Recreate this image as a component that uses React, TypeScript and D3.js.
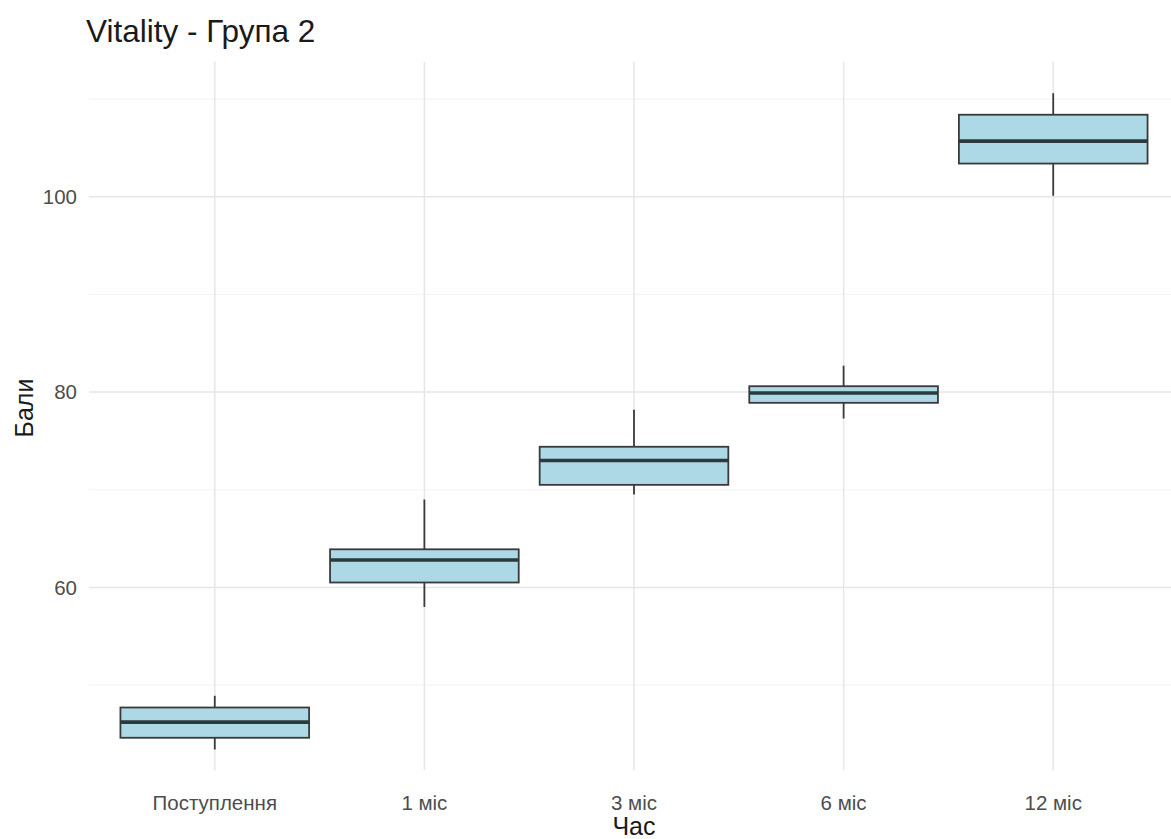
import React from "react";
import * as d3 from "d3";

const categories = ["Поступлення", "1 міс", "3 міс", "6 міс", "12 міс"];
const whiskerLow = [43.4, 58.0, 69.5, 77.3, 100.1];
const q1 = [44.6, 60.5, 70.5, 78.9, 103.4];
const median = [46.2, 62.8, 73.0, 79.9, 105.7];
const q3 = [47.7, 63.9, 74.4, 80.6, 108.4];
const whiskerHigh = [48.9, 69.0, 78.2, 82.7, 110.6];
const majorTicks = [60, 80, 100];
const minorTicks = [50, 70, 90, 110];

const W = 1171;
const H = 839;
const panel = { left: 89, right: 1179, top: 62, bottom: 770 };

export default function App() {
  const y = d3.scaleLinear().domain([41.3, 113.8]).range([panel.bottom, panel.top]);
  const x = d3
    .scalePoint<string>()
    .domain(categories)
    .range([panel.left, panel.right])
    .padding(0.6);
  const step = x.step();
  const boxW = step * 0.9;
  const font = "Liberation Sans, Arial, sans-serif";

  return (
    <svg width={W} height={H} style={{ position: "absolute", left: 0, top: 0, background: "#fff" }}>
      <rect width={W} height={H} fill="#fff" />
      {minorTicks.map((t) => (
        <line key={"mn" + t} x1={panel.left} x2={W} y1={y(t)} y2={y(t)} stroke="#f2f2f2" strokeWidth={1} />
      ))}
      {majorTicks.map((t) => (
        <line key={"mj" + t} x1={panel.left} x2={W} y1={y(t)} y2={y(t)} stroke="#e6e6e6" strokeWidth={1.5} />
      ))}
      {categories.map((c) => (
        <line key={"vg" + c} x1={x(c)} x2={x(c)} y1={panel.top} y2={panel.bottom} stroke="#e6e6e6" strokeWidth={1.5} />
      ))}
      {categories.map((c, i) => {
        const cx = x(c)!;
        return (
          <g key={"b" + c}>
            <line x1={cx} x2={cx} y1={y(whiskerHigh[i])} y2={y(q3[i])} stroke="#3a3a3a" strokeWidth={1.8} />
            <line x1={cx} x2={cx} y1={y(q1[i])} y2={y(whiskerLow[i])} stroke="#3a3a3a" strokeWidth={1.8} />
            <rect
              x={cx - boxW / 2}
              y={y(q3[i])}
              width={boxW}
              height={y(q1[i]) - y(q3[i])}
              fill="#add8e6"
              stroke="#3a3a3a"
              strokeWidth={1.8}
            />
            <line
              x1={cx - boxW / 2}
              x2={cx + boxW / 2}
              y1={y(median[i])}
              y2={y(median[i])}
              stroke="#2a3a3d"
              strokeWidth={3.6}
            />
          </g>
        );
      })}
      {majorTicks.map((t) => (
        <text key={"yl" + t} x={77} y={y(t)} dy="0.36em" textAnchor="end" fontFamily={font} fontSize={20.5} fill="#4d4d4d">
          {t}
        </text>
      ))}
      {categories.map((c) => (
        <text key={"xl" + c} x={x(c)} y={810} textAnchor="middle" fontFamily={font} fontSize={20.5} fill="#4d4d4d">
          {c}
        </text>
      ))}
      <text x={x(categories[2]) as number} y={835} textAnchor="middle" fontFamily={font} fontSize={25} fill="#1a1a1a">
        Час
      </text>
      <text
        transform={`translate(33,408) rotate(-90)`}
        textAnchor="middle"
        fontFamily={font}
        fontSize={25}
        fill="#1a1a1a"
      >
        Бали
      </text>
      <text x={86} y={42} fontFamily={font} fontSize={31.5} fill="#1a1a1a">
        Vitality - Група 2
      </text>
    </svg>
  );
}
